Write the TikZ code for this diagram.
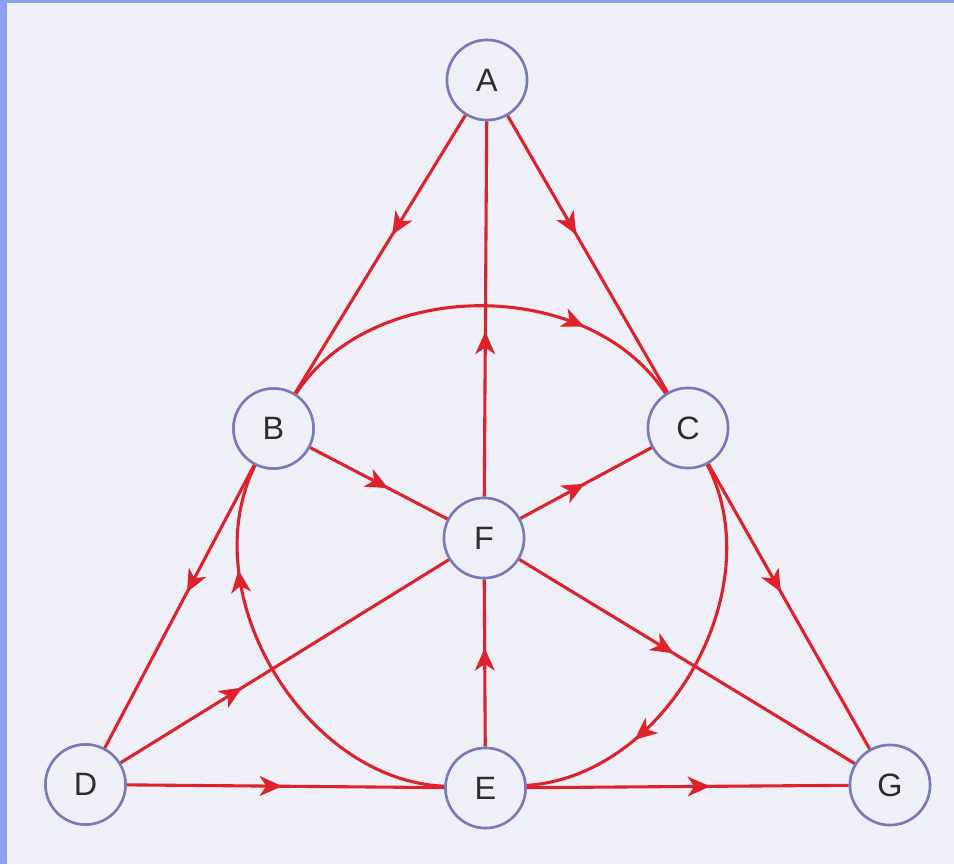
\documentclass[tikz,border=0pt]{standalone}
\usepackage{fontspec}
\setmainfont{Liberation Sans}
\usetikzlibrary{arrows.meta,decorations.markings}
\definecolor{fred}{RGB}{222,34,44}
\definecolor{fnode}{RGB}{118,124,186}
\definecolor{fbg}{RGB}{239,239,247}
\definecolor{fedge}{RGB}{140,160,240}
\definecolor{ftext}{RGB}{45,45,45}
\tikzset{fano/.style={x=0.025cm,y=0.025cm},
  vtx/.style={circle,draw=fnode,fill=fbg,line width=1.8pt,minimum size=2cm,inner sep=0pt,
    text=ftext,font=\fontsize{23}{25}\selectfont},
  flow/.style={draw=fred,line width=2.2pt,postaction={decorate},
    decoration={markings,mark=at position #1 with {\arrow{Stealth[length=16pt,width=14pt,inset=4.5pt]}}}}}

\begin{document}
\begin{tikzpicture}[fano]
    \fill[fbg] (0,0) rectangle (954,864);
    \fill[fedge] (0,0) rectangle (7,864);
    \fill[fedge] (0,861) rectangle (954,864);
    \useasboundingbox (0,0) rectangle (954,864);
    % the seven points
    \node[vtx] (A) at (487,784) {A};
    \node[vtx] (B) at (273.5,435.5) {B};
    \node[vtx] (C) at (688,436) {C};
    \node[vtx] (F) at (484,326) {F};
    \node[vtx] (D) at (85.5,79.5) {D};
    \node[vtx] (E) at (485.5,76) {E};
    \node[vtx] (G) at (890,79) {G};
    % the six lines
    \foreach \a/\b/\p in {A/B/0.43,A/C/0.43,F/A/0.44,B/F/0.57,F/C/0.49,B/D/0.45,
                          C/G/0.45,D/F/0.37,F/G/0.46,E/F/0.59,D/E/0.49,E/G/0.57}
      \draw[flow=\p] (\a) -- (\b);
    % the circle
    \draw[flow=0.75] (B) to[bend left=57,looseness=0.97] (C);
    \draw[flow=0.72] (C) to[bend left=57,looseness=0.97] (E);
    \draw[flow=0.75] (E) to[bend left=57,looseness=0.97] (B);
    % nodes again on top
    \foreach \n in {A,B,C,D,E,F,G}
      \node[vtx] at (\n) {\n};
  \end{tikzpicture}
\end{document}
